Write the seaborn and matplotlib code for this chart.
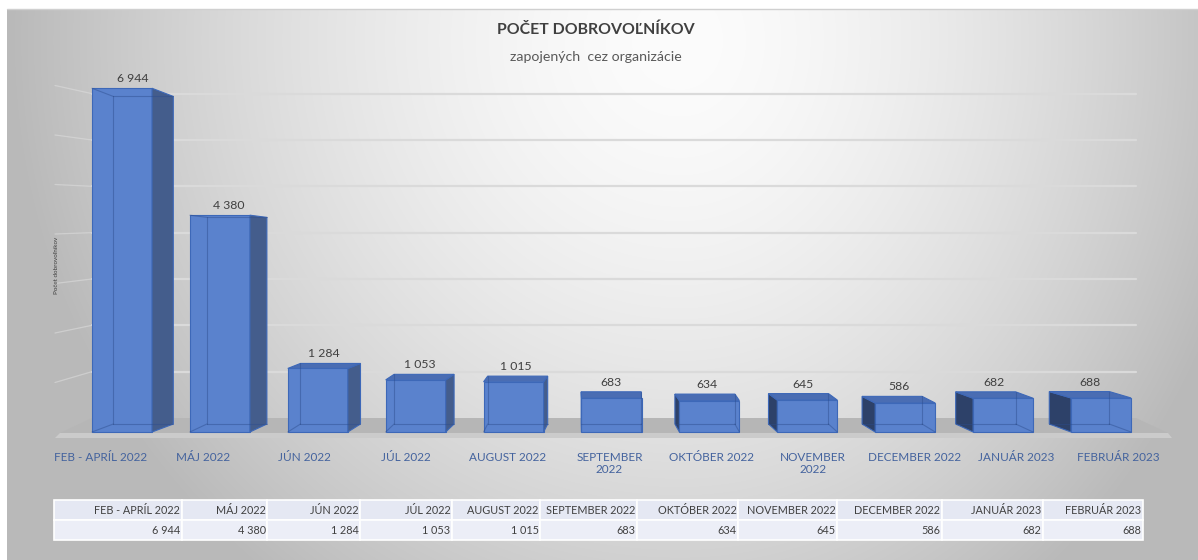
import numpy as np
import pandas as pd
import matplotlib
matplotlib.use("Agg")
import matplotlib.pyplot as plt
from matplotlib.patches import Polygon
import seaborn as sns

# ---------------- data ----------------
months = ["FEB - APRÍL 2022", "MÁJ 2022", "JÚN 2022", "JÚL 2022", "AUGUST 2022",
          "SEPTEMBER 2022", "OKTÓBER 2022", "NOVEMBER 2022", "DECEMBER 2022",
          "JANUÁR 2023", "FEBRUÁR 2023"]
axis_labels = ["FEB - APRÍL 2022", "MÁJ 2022", "JÚN 2022", "JÚL 2022", "AUGUST 2022",
               "SEPTEMBER\n2022", "OKTÓBER 2022", "NOVEMBER\n2022", "DECEMBER 2022",
               "JANUÁR 2023", "FEBRUÁR 2023"]
volunteers = [6944, 4380, 1284, 1053, 1015, 683, 634, 645, 586, 682, 688]
grid_values = [1000, 2000, 3000, 4000, 5000, 6000, 7000]
title = "POČET DOBROVOĽNÍKOV"
subtitle = "zapojených  cez organizácie"
ylabel = "Počet dobrovoľníkov"


def fmt(v):
    return f"{v:,}".replace(",", " ")


# ---------------- style ----------------
FRONT = "#5A82CD"
SIDE_R = "#445D8C"
SIDE_L = "#2D4169"
TOP = "#4A6DB3"
EDGE = "#3D68B8"
HIDDEN = "#2C4C8C"
LABEL_C = "#44639E"
TEXT_C = "#404040"

W, H = 1198, 560
sns.set_theme(style="white")
plt.rcParams["font.family"] = ["Lato", "DejaVu Sans"]

fig = plt.figure(figsize=(W / 100, H / 100), dpi=100)
fig.patch.set_facecolor("white")

# background gradient
bg = fig.add_axes([0, 0, 1, 1], zorder=-10)
yy, xx = np.mgrid[0:H, 0:W]
rx = np.where(xx > 680, 560.0, 640.0)
r = np.sqrt(((xx - 680) / rx) ** 2 + ((yy - 40) / 650.0) ** 2)
val = 252 - 62 * np.clip(r, 0, 1.2) ** 1.6
val = np.clip(val, 185, 252) / 255.0
img = np.dstack([val, val, val])
img[:9, :, :] = 1
img[:, :7, :] = 1
bg.imshow(img, extent=[0, W, H, 0], aspect="auto", interpolation="bilinear")
bg.plot([7, W], [9, 9], color="#D0D0D0", lw=1)
bg.set_xlim(0, W)
bg.set_ylim(H, 0)
bg.axis("off")

# main axes
L_px, R_px, T_px, B_px = 40, 1180, 10, 445
ax = fig.add_axes([L_px / W, 1 - B_px / H, (R_px - L_px) / W, (B_px - T_px) / H])
ax.patch.set_alpha(0)

df = pd.DataFrame({"month": months, "volunteers": volunteers})
sns.barplot(data=df, x="month", y="volunteers", ax=ax, width=0.613, color=FRONT,
            saturation=1, edgecolor=EDGE, linewidth=0.8, errorbar=None, zorder=3)
ax.set_xlim(-0.8376, 10.807)
ax.set_ylim(-262.6, 8525)

to_disp = ax.transData
to_data = ax.transData.inverted()

# perspective of the bars and of the back wall (display px)
EYE, S = H - 262.0, 0.953
WALL_EYE, WALL_S = H - 213.0, 0.936


def back_y(y, eye=EYE, s=S):
    return eye + (y - eye) * s


def D(pts):
    return to_data.transform(np.array(pts, dtype=float))


# floor
floor_top = [(92, H - 418), (1136, H - 418), (1168, H - 433), (60, H - 433)]
floor_lip = [(60, H - 433), (1168, H - 433), (1172, H - 438), (55, H - 438)]
ax.add_patch(Polygon(D(floor_top), closed=True, facecolor="#B6B6B6", edgecolor="none", zorder=1))
ax.add_patch(Polygon(D(floor_lip), closed=True, facecolor="#CBCBCB", edgecolor="none", zorder=1))

# back wall gridlines
for v in grid_values:
    yf = to_disp.transform((0, v))[1]
    yb = back_y(yf, WALL_EYE, WALL_S)
    ax.plot(*D([(92, yb), (1136, yb)]).T, color="#DADADA", lw=1.6, zorder=0.5)
    ax.plot(*D([(55, yf), (92, yb)]).T, color="#DCDCDC", lw=0.9, alpha=0.6, zorder=0.5)

# pseudo-3D faces
for i, p in enumerate(ax.patches[:len(volunteers)]):
    x0, w, h = p.get_x(), p.get_width(), p.get_height()
    xl, yb = to_disp.transform((x0, 0))
    xr, yt = to_disp.transform((x0 + w, h))
    dx = 4.3 * (4.95 - i)
    yb2, yt2 = back_y(yb), back_y(yt)
    if dx >= 0:
        side = [(xr, yb), (xr + dx, yb2), (xr + dx, yt2), (xr, yt)]
        sc = SIDE_R
        hx, fx = xl + dx, xl
    else:
        side = [(xl, yb), (xl + dx, yb2), (xl + dx, yt2), (xl, yt)]
        sc = SIDE_L
        hx, fx = xr + dx, xr
    ax.add_patch(Polygon(D(side), closed=True, facecolor=sc, edgecolor=EDGE, lw=0.8, zorder=3))
    top_visible = yt2 > yt
    if top_visible:
        top = [(xl, yt), (xr, yt), (xr + dx, yt2), (xl + dx, yt2)]
        ax.add_patch(Polygon(D(top), closed=True, facecolor=TOP, edgecolor=EDGE, lw=0.8, zorder=3))
    # hidden edges (transparent look)
    segs = [[(xl + dx, yb2), (xr + dx, yb2)], [(hx, yb2), (hx, yt2)], [(fx, yb), (hx, yb2)]]
    if not top_visible:
        segs += [[(xl + dx, yt2), (xr + dx, yt2)], [(fx, yt), (hx, yt2)]]
    for sgm in segs:
        ax.plot(*D(sgm).T, color=HIDDEN, lw=0.8, alpha=0.45, zorder=4)
    # value label
    cx = (xl + xr) / 2 + dx / 2
    cy = max(yt, yt2) + 4
    lx, ly = to_data.transform((cx, cy))
    ax.text(lx, ly, fmt(volunteers[i]), ha="center", va="bottom", fontsize=8.8,
            color=TEXT_C, zorder=5)

# category labels
label_px = [101 + 101.7 * i for i in range(len(axis_labels))]
tick_pos = [to_data.transform((px, 0))[0] for px in label_px]
ax.set_xticks(tick_pos)
ax.set_xticklabels(axis_labels, color=LABEL_C, fontsize=8.5, linespacing=1.15)
ax.tick_params(axis="x", length=0, pad=5)
ax.set_yticks([])
ax.set_xlabel("")
ax.set_ylabel("")
sns.despine(ax=ax, left=True, bottom=True)

# titles
fig.text(596 / W, 1 - 30 / H, title, ha="center", va="center", fontsize=11.4,
         fontweight="bold", color=TEXT_C)
fig.text(596 / W, 1 - 57 / H, subtitle, ha="center", va="center", fontsize=10.2,
         color="#595959")
fig.text(57 / W, 1 - 265 / H, ylabel, rotation=90, ha="center", va="center",
         fontsize=4.5, color=TEXT_C)

# data table
col_edges = [54, 182, 267, 360, 452, 540, 637, 738, 837, 942, 1043, 1143]
widths = np.diff(col_edges) / (col_edges[-1] - col_edges[0])
tax = fig.add_axes([54 / W, 1 - 540 / H, (1143 - 54) / W, 40 / H])
tax.axis("off")
tbl = tax.table(cellText=[months, [fmt(v) for v in volunteers]], colWidths=list(widths),
                cellLoc="right", bbox=[0, 0, 1, 1])
tbl.auto_set_font_size(False)
tbl.set_fontsize(7.8)
for (rr, cc), cell in tbl.get_celld().items():
    cell.set_facecolor("#E5E8F3" if rr == 0 else "#ECEEF7")
    cell.set_edgecolor("white")
    cell.set_linewidth(1.2)
    cell.PAD = 0.015
    cell.get_text().set_color(TEXT_C)

fig.savefig("out.png", dpi=100)
